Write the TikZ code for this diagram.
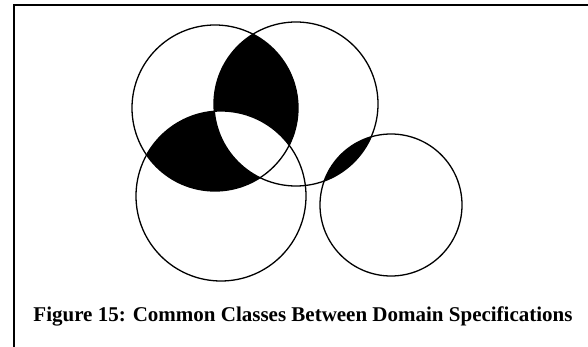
\documentclass[tikz,border=0pt]{standalone}
\usepackage{fontspec}
\setmainfont{Liberation Serif}
\begin{document}
\begin{tikzpicture}[x=1pt,y=-1pt,
  ring/.style={draw=black,line width=1.3pt},
  frameline/.style={draw=black,line width=2pt},
  captext/.style={font=\bfseries\fontsize{21}{23}\selectfont,inner sep=0pt}]
\useasboundingbox (0,0) rectangle (588,347);
\coordinate (cA) at (215,108);
\coordinate (cB) at (296,104);
\coordinate (cC) at (221,196);
\coordinate (cD) at (391,205);
\def\pA{(cA) circle[radius=83pt]}
\def\pB{(cB) circle[radius=82pt]}
\def\pC{(cC) circle[radius=85pt]}
\def\pD{(cD) circle[radius=71pt]}
% frame (top and left)
\coordinate (fTL) at (14,5.5);
\coordinate (fTR) at (588,5.5);
\coordinate (fBL) at (14,347);
\draw[frameline] (fTR) -- (fTL) -- (fBL);
% black regions
\begin{scope}\clip \pA; \clip \pB; \fill[black] (0,0) rectangle (588,347);\end{scope}
\begin{scope}\clip \pA; \clip \pC; \fill[black] (0,0) rectangle (588,347);\end{scope}
\begin{scope}\clip \pA; \clip \pB; \clip \pC; \fill[white] (0,0) rectangle (588,347);\end{scope}
\begin{scope}\clip \pB; \clip \pD; \fill[black] (0,0) rectangle (588,347);\end{scope}
% circles
\draw[ring] \pA;
\draw[ring] \pB;
\draw[ring] \pC;
\draw[ring] \pD;
\node[captext,anchor=base] (cap) at (303,321.5) {Figure 15: Common Classes Between Domain Specifications};
\end{tikzpicture}
\end{document}
